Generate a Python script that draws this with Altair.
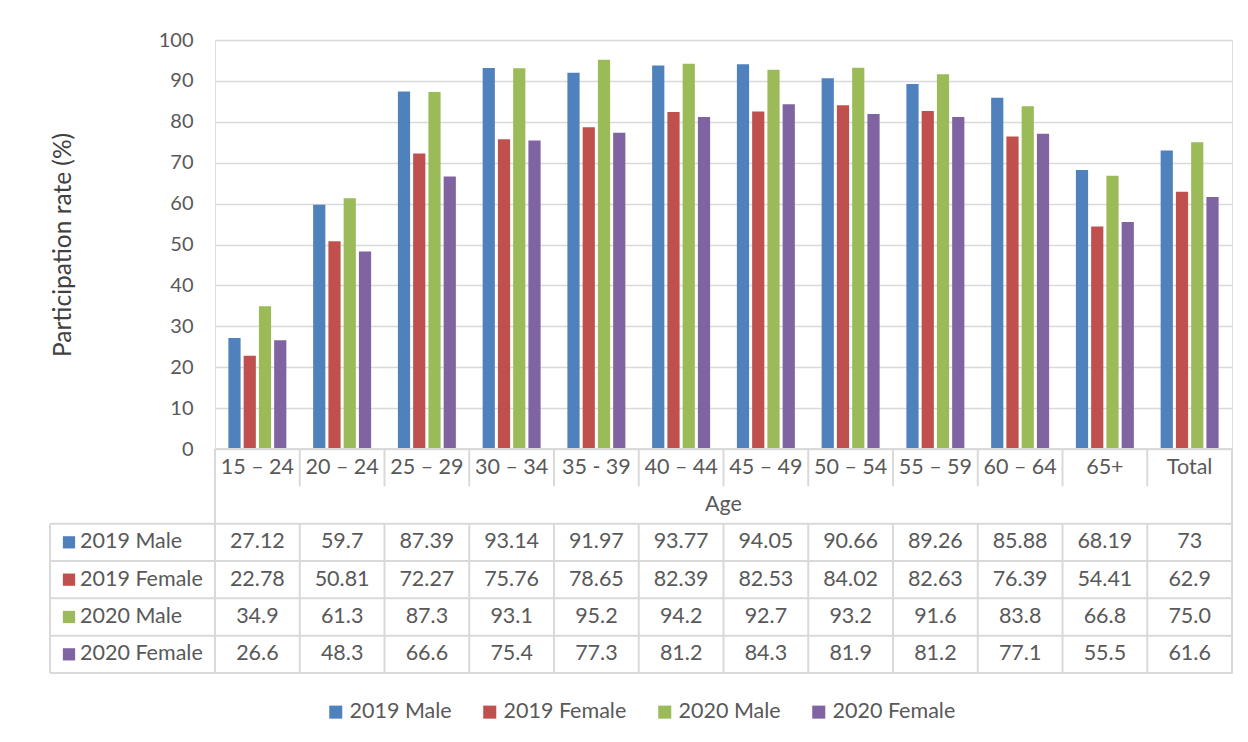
import altair as alt
import pandas as pd

categories = ["15 – 24", "20 – 24", "25 – 29", "30 – 34", "35 - 39", "40 – 44",
              "45 – 49", "50 – 54", "55 – 59", "60 – 64", "65+", "Total"]
series = ["2019 Male", "2019 Female", "2020 Male", "2020 Female"]
male_2019 = ["27.12", "59.7", "87.39", "93.14", "91.97", "93.77", "94.05", "90.66", "89.26", "85.88", "68.19", "73"]
female_2019 = ["22.78", "50.81", "72.27", "75.76", "78.65", "82.39", "82.53", "84.02", "82.63", "76.39", "54.41", "62.9"]
male_2020 = ["34.9", "61.3", "87.3", "93.1", "95.2", "94.2", "92.7", "93.2", "91.6", "83.8", "66.8", "75.0"]
female_2020 = ["26.6", "48.3", "66.6", "75.4", "77.3", "81.2", "84.3", "81.9", "81.2", "77.1", "55.5", "61.6"]
colors = ["#4F81BD", "#C0504D", "#9BBB59", "#8064A2"]
y_ticks = list(range(0, 101, 10))
x_title = "Age"
y_title = "Participation rate (%)"

FONT = "Lato"
TXT = "#595959"
LINE = "#d9d9d9"
FS = 21.5
W, H, TH = 1017, 409, 224
NCAT = len(categories)
CELL = W / NCAT
LW = 165 / CELL  # width of the row-label column in category units

rows = []
for j, (s, vals) in enumerate(zip(series, [male_2019, female_2019, male_2020, female_2020])):
    for i, (c, v) in enumerate(zip(categories, vals)):
        rows.append({"cat": c, "series": s, "value": float(v), "text": v,
                     "cx": i + 0.5, "ry": j + 2.5})
df = pd.DataFrame(rows)

color = alt.Color(
    "series:N",
    scale=alt.Scale(domain=series, range=colors),
    legend=alt.Legend(orient="none", legendX=110, legendY=661, direction="horizontal",
                      title=None, symbolType="square", symbolSize=170, symbolStrokeWidth=0,
                      labelFontSize=FS, labelColor=TXT, labelFont=FONT, columnPadding=27,
                      labelOffset=3, symbolOpacity=1),
)

bars = alt.Chart(df).mark_bar().encode(
    x=alt.X("cat:N", sort=categories,
            scale=alt.Scale(paddingInner=0.316, paddingOuter=0.158), axis=None),
    xOffset=alt.XOffset("series:N", sort=series,
                        scale=alt.Scale(paddingInner=0.2, paddingOuter=0)),
    y=alt.Y("value:Q", scale=alt.Scale(domain=[0, 100]),
            axis=alt.Axis(values=y_ticks, title=y_title, grid=True, gridColor=LINE,
                          gridWidth=1.5, domain=False, ticks=False, labelPadding=22,
                          labelFontSize=20, labelColor=TXT, labelFont=FONT,
                          titleFontSize=24.5, titleFontWeight="normal", titleColor="#404040",
                          titleFont=FONT, titlePadding=83)),
    color=color,
).properties(width=W, height=H)

# ---- data table under the chart ----
tx = alt.X("x:Q", scale=alt.Scale(domain=[0, NCAT]), axis=None)
ty = alt.Y("y:Q", scale=alt.Scale(domain=[0, 6], reverse=True), axis=None)

hdr_df = pd.DataFrame({"x": [i + 0.5 for i in range(NCAT)], "y": [0.5] * NCAT, "t": categories})
header = alt.Chart(hdr_df).mark_text(fontSize=FS, color=TXT, font=FONT).encode(
    x=tx, y=ty, text="t:N")

age_df = pd.DataFrame({"x": [NCAT / 2], "y": [1.5], "t": [x_title]})
age = alt.Chart(age_df).mark_text(fontSize=FS, color=TXT, font=FONT).encode(
    x=tx, y=ty, text="t:N")

vals = alt.Chart(df).mark_text(fontSize=FS, color=TXT, font=FONT).encode(
    x=alt.X("cx:Q", scale=alt.Scale(domain=[0, NCAT]), axis=None),
    y=alt.Y("ry:Q", scale=alt.Scale(domain=[0, 6], reverse=True), axis=None),
    text="text:N")

lab_df = pd.DataFrame({"series": series, "y": [j + 2.5 for j in range(4)],
                       "x": [-135 / CELL] * 4, "xs": [-146 / CELL] * 4})
labels = alt.Chart(lab_df).mark_text(fontSize=FS, color=TXT, font=FONT, align="left").encode(
    x=tx, y=ty, text="series:N")
squares = alt.Chart(lab_df).mark_point(shape="square", filled=True, size=150, opacity=1).encode(
    x=alt.X("xs:Q", scale=alt.Scale(domain=[0, NCAT]), axis=None), y=ty, color=color)

segs = [(0, NCAT, 0, 0)]
for r in [2, 3, 4, 5, 6]:
    segs.append((-LW, NCAT, r, r))
segs += [(0, 0, 0, 6), (NCAT, NCAT, 0, 6), (-LW, -LW, 2, 6)]
for i in range(1, NCAT):
    segs += [(i, i, 0, 1), (i, i, 2, 6)]
seg_df = pd.DataFrame(segs, columns=["x", "x2", "y", "y2"])
lines = alt.Chart(seg_df).mark_rule(color=LINE, strokeWidth=2).encode(
    x=tx, x2="x2:Q", y=ty, y2="y2:Q")

table = alt.layer(lines, header, age, vals, labels, squares).properties(width=W, height=TH)

chart = alt.vconcat(bars, table, spacing=0, bounds="flush").configure_view(
    strokeWidth=0).configure(font=FONT, padding={"left": 40, "top": 21, "right": 5, "bottom": 5})

chart.save("out.html", embed_options={"renderer": "svg", "actions": False})
